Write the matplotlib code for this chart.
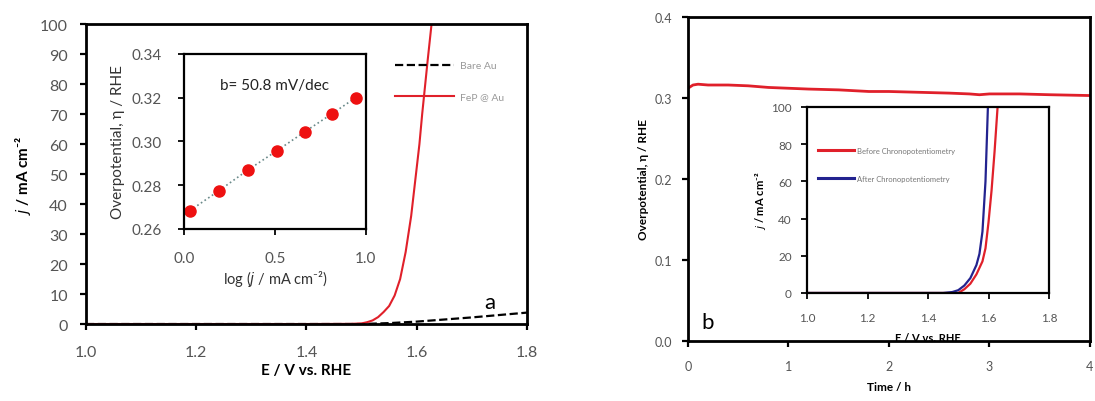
import matplotlib
matplotlib.use("Agg")
import matplotlib.pyplot as plt
import numpy as np

plt.rcParams["font.family"] = ["Lato", "DejaVu Sans"]

# (a) LSV curves, main panel
E_fep = [1.0, 1.2, 1.4, 1.48, 1.50, 1.51, 1.52, 1.53, 1.54, 1.55, 1.56, 1.57, 1.58,
         1.59, 1.60, 1.605, 1.61, 1.615, 1.62, 1.627]
j_fep = [0, 0, 0, 0.05, 0.2, 0.6, 1.2, 2.3, 4, 6, 9.5, 15, 24, 36, 52, 60, 70, 79, 88, 100]
E_bare = [1.0, 1.5, 1.55, 1.6, 1.65, 1.7, 1.75, 1.8]
j_bare = [0, 0, 0.3, 0.8, 1.5, 2.2, 3.0, 3.8]

# (a) Tafel inset
log_j = [0.033, 0.192, 0.352, 0.511, 0.665, 0.812, 0.943]
eta_tafel = [0.2684, 0.2775, 0.2870, 0.2958, 0.3045, 0.3126, 0.3200]

# (b) chronopotentiometry
t_h = [0, 0.05, 0.1, 0.2, 0.4, 0.6, 0.8, 1.0, 1.2, 1.5, 1.8, 2.0, 2.3, 2.6, 2.8, 2.9, 3.0, 3.3, 3.6, 4.0]
eta_t = [0.312, 0.316, 0.317, 0.316, 0.316, 0.315, 0.313, 0.312, 0.311, 0.310, 0.308,
         0.308, 0.307, 0.306, 0.305, 0.304, 0.305, 0.305, 0.304, 0.303]

# (b) inset LSV before / after
E_before = [1.0, 1.50, 1.52, 1.54, 1.56, 1.58, 1.59, 1.60, 1.61, 1.62, 1.63]
j_before = [0, 0, 2, 5, 10, 17, 24, 38, 55, 76, 100]
E_after = [1.0, 1.45, 1.48, 1.50, 1.52, 1.54, 1.56, 1.57, 1.58, 1.59, 1.598]
j_after = [0, 0, 0.5, 1.5, 4, 8, 15, 21, 33, 60, 100]

RED = "#e0202a"
BLUE = "#23238f"
GREY = "#555555"
fmt = matplotlib.ticker.FormatStrFormatter


def style(ax, lw, fs, xpad, ypad, color=GREY):
    for s in ax.spines.values():
        s.set_linewidth(lw)
    ax.tick_params(direction="out", length=4, width=lw * 0.8, labelsize=fs,
                   labelcolor=color, top=False, right=False)
    ax.tick_params(axis="x", pad=xpad)
    ax.tick_params(axis="y", pad=ypad)


fig = plt.figure(figsize=(10.95, 4.02), dpi=100)

# ---- panel a ----
ax = fig.add_axes([0.0785, 0.1915, 0.4027, 0.7463])
ax.plot(E_bare, j_bare, ls="--", color="black", lw=1.6, label="Bare Au")
ax.plot(E_fep, j_fep, color=RED, lw=1.5, label="FeP @ Au")
ax.set_xlim(1.0, 1.8)
ax.set_ylim(0, 100)
ax.set_xticks(np.arange(1.0, 1.81, 0.2))
ax.set_yticks(np.arange(0, 101, 10))
ax.xaxis.set_major_formatter(fmt("%.1f"))
style(ax, 2.0, 11.5, 11, 9)
ax.set_xlabel("E / V vs. RHE", fontsize=11, fontweight="bold", labelpad=3)
ax.set_ylabel(r"$\bf\it{j}$ / mA cm⁻²", fontsize=11, fontweight="bold", labelpad=5)
leg = ax.legend(loc="upper left", bbox_to_anchor=(0.70, 0.877), frameon=False,
                fontsize=7.5, handlelength=5.7, labelspacing=2.1, borderpad=0,
                borderaxespad=0, handletextpad=0.6)
for t in leg.get_texts():
    t.set_color("#999999")
ax.text(0.915, 0.075, "a", transform=ax.transAxes, fontsize=16, ha="center", va="center")

ins = fig.add_axes([0.168, 0.4279, 0.1662, 0.4353])
ins.plot(log_j, eta_tafel, ls=":", color="#6a8a8a", lw=1.2)
ins.plot(log_j, eta_tafel, ls="none", marker="o", ms=8, color="#ee1111", mec="#ee1111")
ins.set_xlim(0, 1.0)
ins.set_ylim(0.26, 0.34)
ins.set_xticks([0.0, 0.5, 1.0])
ins.set_yticks(np.arange(0.26, 0.341, 0.02))
ins.xaxis.set_major_formatter(fmt("%.1f"))
ins.yaxis.set_major_formatter(fmt("%.2f"))
style(ins, 1.6, 11, 12, 12)
ins.set_xlabel(r"log ($j$ / mA cm⁻²)", fontsize=10.5, color="#333333", labelpad=2)
ins.set_ylabel("Overpotential, η / RHE", fontsize=11, color="#333333", labelpad=5)
ins.text(0.2, 0.8, "b= 50.8 mV/dec", transform=ins.transAxes, fontsize=11, color="#222222")

# ---- panel b ----
bx = fig.add_axes([0.6283, 0.1493, 0.3671, 0.806])
bx.plot(t_h, eta_t, color=RED, lw=2.0)
bx.set_xlim(0, 4)
bx.set_ylim(0, 0.4)
bx.set_xticks([0, 1, 2, 3, 4])
bx.set_yticks(np.arange(0, 0.41, 0.1))
bx.yaxis.set_major_formatter(fmt("%.1f"))
style(bx, 2.0, 9, 10, 7.5)
bx.set_xlabel("Time / h", fontsize=8.5, fontweight="bold", labelpad=6)
bx.set_ylabel("Overpotential, η / RHE", fontsize=8.5, fontweight="bold", labelpad=4)
bx.text(0.05, 0.06, "b", transform=bx.transAxes, fontsize=16, ha="center", va="center")

bi = fig.add_axes([0.737, 0.2687, 0.221, 0.4627])
bi.plot(E_before, j_before, color=RED, lw=1.6, label="Before Chronopotentiometry")
bi.plot(E_after, j_after, color=BLUE, lw=1.6, label="After Chronopotentiometry")
bi.set_xlim(1.0, 1.8)
bi.set_ylim(0, 100)
bi.set_xticks(np.arange(1.0, 1.81, 0.2))
bi.set_yticks(np.arange(0, 101, 20))
bi.xaxis.set_major_formatter(fmt("%.1f"))
style(bi, 1.6, 8.5, 10, 7)
bi.set_xlabel("E / V vs. RHE", fontsize=8, fontweight="bold", labelpad=6)
bi.set_ylabel(r"$\bf\it{j}$ / mA cm⁻²", fontsize=8, fontweight="bold", labelpad=2)
leg2 = bi.legend(loc="upper left", bbox_to_anchor=(0.045, 0.785), frameon=False,
                 fontsize=5.5, handlelength=4.7, labelspacing=2.7, borderpad=0,
                 borderaxespad=0, handletextpad=0.4)
for line in leg2.get_lines():
    line.set_linewidth(2.2)
for t in leg2.get_texts():
    t.set_color("#777777")

fig.savefig("out.png", dpi=100)
